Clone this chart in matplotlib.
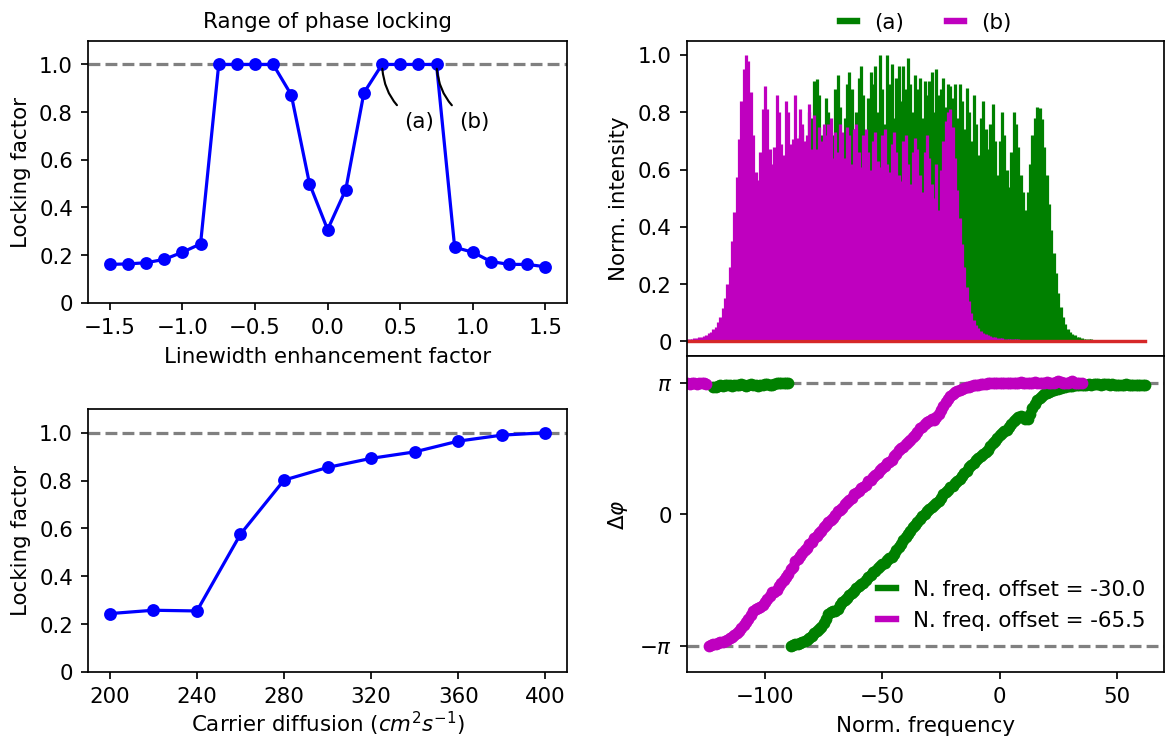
import numpy as np
import matplotlib.pyplot as plt
from matplotlib.lines import Line2D

# --- locking factor vs linewidth enhancement factor ---
alpha_vals = [-1.5, -1.375, -1.25, -1.125, -1.0, -0.875, -0.75, -0.625, -0.5,
              -0.375, -0.25, -0.125, 0.0, 0.125, 0.25, 0.375, 0.5, 0.625, 0.75,
              0.875, 1.0, 1.125, 1.25, 1.375, 1.5]
lock_alpha = [0.161, 0.163, 0.168, 0.182, 0.212, 0.247, 1.0, 1.0, 1.0,
              1.0, 0.872, 0.50, 0.307, 0.475, 0.881, 1.0, 1.0, 1.0, 1.0,
              0.233, 0.212, 0.173, 0.161, 0.161, 0.151]

# --- locking factor vs carrier diffusion ---
diffusion = [200, 220, 240, 260, 280, 300, 320, 340, 360, 380, 400]
lock_diff = [0.244, 0.258, 0.255, 0.576, 0.802, 0.855, 0.893, 0.920, 0.965, 0.990, 1.0]

# --- spectra, one mode per integer normalised frequency (-133 ... 62) ---
freq = np.arange(-133, 63)
spec_b = [
    0.008, 0.009, 0.010, 0.011, 0.012, 0.014, 0.016, 0.019, 0.023, 0.028,  # -133
    0.034, 0.042, 0.052, 0.066, 0.085, 0.117, 0.15, 0.20, 0.26, 0.35,      # -123
    0.45, 0.575, 0.705, 0.84, 0.95, 1.0, 0.98, 0.87, 0.72, 0.59,           # -113
    0.565, 0.66, 0.81, 0.89, 0.81, 0.67, 0.62, 0.68, 0.86, 0.80,           # -103
    0.69, 0.65, 0.84, 0.80, 0.69, 0.705, 0.86, 0.71, 0.81, 0.76,           # -93
    0.70, 0.72, 0.83, 0.67, 0.79, 0.67, 0.75, 0.70, 0.76, 0.72,            # -83
    0.76, 0.78, 0.64, 0.73, 0.66, 0.76, 0.73, 0.64, 0.75, 0.72,            # -73
    0.62, 0.74, 0.76, 0.66, 0.61, 0.72, 0.74, 0.66, 0.60, 0.70,            # -63
    0.73, 0.63, 0.61, 0.72, 0.74, 0.62, 0.59, 0.69, 0.73, 0.66,            # -53
    0.58, 0.56, 0.70, 0.72, 0.62, 0.55, 0.66, 0.71, 0.67, 0.58,            # -43
    0.52, 0.66, 0.72, 0.64, 0.55, 0.50, 0.62, 0.46, 0.60, 0.70,            # -33
    0.77, 0.80, 0.81, 0.75, 0.64, 0.53, 0.43, 0.34, 0.26, 0.19,            # -23
    0.14, 0.10, 0.075, 0.058, 0.046, 0.037, 0.031, 0.026, 0.022, 0.019,    # -13
    0.017, 0.015, 0.013, 0.012, 0.011, 0.010, 0.009, 0.009, 0.008, 0.008,  # -3
    0.007, 0.007, 0.006, 0.006, 0.006, 0.005, 0.005, 0.005, 0.005, 0.004,  # 7
    0.004, 0.004, 0.004, 0.004, 0.004, 0.004, 0.004, 0.004, 0.004, 0.004,  # 17
    0.004, 0.003, 0.003, 0.003, 0.003, 0.003, 0.003, 0.003, 0.003, 0.003,  # 27
    0.003, 0.003, 0.003, 0.003, 0.003, 0.003, 0.002, 0.002, 0.002, 0.002,  # 37
    0.002, 0.002, 0.002, 0.002, 0.002, 0.002, 0.002, 0.002, 0.002, 0.002,  # 47
    0.002, 0.002, 0.002, 0.002, 0.002, 0.002,                              # 57
]
spec_a = [
    0.001, 0.001, 0.001, 0.001, 0.001, 0.001, 0.001, 0.001, 0.001, 0.001,  # -133
    0.001, 0.001, 0.001, 0.002, 0.002, 0.002, 0.003, 0.003, 0.004, 0.004,  # -123
    0.005, 0.006, 0.007, 0.008, 0.009, 0.010, 0.012, 0.014, 0.017, 0.020,  # -113
    0.024, 0.029, 0.035, 0.043, 0.053, 0.066, 0.083, 0.11, 0.14, 0.19,     # -103
    0.25, 0.33, 0.43, 0.52, 0.60, 0.66, 0.70, 0.68, 0.72, 0.74,            # -93
    0.69, 0.70, 0.80, 0.78, 0.91, 0.915, 0.86, 0.72, 0.74, 0.85,           # -83
    0.80, 0.70, 0.72, 0.88, 0.93, 0.82, 0.70, 0.78, 0.90, 0.94,            # -73
    0.88, 0.74, 0.80, 0.92, 0.96, 0.86, 0.72, 0.85, 0.94, 0.90,            # -63
    0.96, 0.80, 1.0, 0.88, 0.76, 1.0, 0.90, 0.97, 0.78, 0.92,              # -53
    0.96, 0.84, 0.96, 0.88, 0.99, 0.90, 0.80, 0.93, 0.88, 0.92,            # -43
    0.78, 0.91, 0.86, 0.91, 0.94, 0.80, 0.95, 0.86, 0.88, 0.92,            # -33
    0.82, 0.90, 0.89, 0.85, 0.90, 0.78, 0.90, 0.84, 0.74, 0.885,           # -23
    0.80, 0.70, 0.86, 0.76, 0.65, 0.78, 0.84, 0.74, 0.67, 0.76,            # -13
    0.83, 0.70, 0.58, 0.70, 0.80, 0.72, 0.60, 0.54, 0.66, 0.80,            # -3
    0.76, 0.68, 0.58, 0.52, 0.46, 0.52, 0.62, 0.72, 0.78, 0.82,            # 7
    0.815, 0.775, 0.68, 0.58, 0.48, 0.39, 0.31, 0.24, 0.17, 0.12,          # 17
    0.085, 0.06, 0.045, 0.034, 0.026, 0.021, 0.017, 0.014, 0.012, 0.010,   # 27
    0.009, 0.008, 0.007, 0.006, 0.006, 0.005, 0.005, 0.004, 0.004, 0.004,  # 37
    0.003, 0.003, 0.003, 0.003, 0.003, 0.003, 0.003, 0.003, 0.003, 0.003,  # 47
    0.003, 0.003, 0.002, 0.002, 0.002, 0.002,                              # 57
]

# --- spectral phase (in units of pi) ---
freq_pb = np.arange(-133, 36)
phase_b = [
    1.0, 0.99, 1.0, 1.0, 0.99, 1.0, 0.995, 1.0, 0.99, -1.0,                    # -133
    -0.995, -0.99, -0.985, -0.98, -0.975, -0.97, -0.962, -0.955, -0.945, -0.935,  # -123
    -0.92, -0.90, -0.885, -0.865, -0.845, -0.82, -0.80, -0.77, -0.74, -0.72,   # -113
    -0.71, -0.705, -0.69, -0.665, -0.645, -0.62, -0.595, -0.59, -0.575, -0.545,  # -103
    -0.52, -0.50, -0.475, -0.455, -0.42, -0.40, -0.36, -0.34, -0.32, -0.295,   # -93
    -0.27, -0.255, -0.225, -0.21, -0.185, -0.165, -0.14, -0.13, -0.10, -0.085,  # -83
    -0.06, -0.045, -0.03, -0.01, 0.02, 0.03, 0.05, 0.075, 0.095, 0.11,         # -73
    0.125, 0.15, 0.16, 0.175, 0.195, 0.21, 0.22, 0.255, 0.26, 0.28,            # -63
    0.30, 0.31, 0.335, 0.35, 0.365, 0.39, 0.40, 0.41, 0.44, 0.46,              # -53
    0.49, 0.50, 0.51, 0.53, 0.545, 0.56, 0.59, 0.60, 0.625, 0.655,             # -43
    0.66, 0.685, 0.70, 0.705, 0.72, 0.715, 0.735, 0.76, 0.79, 0.82,            # -33
    0.85, 0.875, 0.895, 0.91, 0.925, 0.935, 0.945, 0.955, 0.96, 0.965,         # -23
    0.97, 0.975, 0.98, 0.985, 0.985, 0.99, 0.99, 0.99, 0.995, 0.995,           # -13
    0.995, 1.0, 1.0, 1.0, 1.0, 1.0, 1.0, 1.0, 1.0, 1.0,                        # -3
    1.0, 1.0, 1.005, 1.0, 1.0, 0.995, 1.0, 1.0, 1.005, 1.0,                    # 7
    1.0, 0.995, 1.0, 1.005, 1.0, 1.0, 1.0, 1.005, 1.01, 1.005,                 # 17
    1.0, 0.995, 1.0, 1.005, 1.01, 1.0, 1.0, 0.995, 1.0,                        # 27
]
freq_pa = np.arange(-122, 63)
phase_a = [
    0.97, 0.965, 0.975, 0.98, 0.975, 0.98, 0.985, 0.98, 0.975, 0.98,           # -122
    0.985, 0.98, 0.99, 0.985, 0.975, 0.98, 0.99, 0.985, 0.98, 0.975,           # -112
    0.98, 0.985, 0.99, 0.99, 0.985, 0.98, 0.99, 0.995, 1.0, 1.0,               # -102
    0.995, 1.0, 1.0,                                                           # -92
    -1.0, -0.995, -0.99, -0.987, -0.98, -0.975, -0.962, -0.955, -0.94, -0.925,  # -89
    -0.905, -0.89, -0.873, -0.855, -0.83, -0.80, -0.76, -0.745, -0.735, -0.735,  # -79
    -0.72, -0.69, -0.67, -0.655, -0.64, -0.615, -0.60, -0.585, -0.565, -0.55,  # -69
    -0.53, -0.525, -0.50, -0.48, -0.465, -0.44, -0.43, -0.41, -0.395, -0.38,   # -59
    -0.37, -0.35, -0.335, -0.325, -0.30, -0.275, -0.25, -0.225, -0.20, -0.175,  # -49
    -0.15, -0.125, -0.10, -0.085, -0.06, -0.035, -0.015, 0.0, 0.025, 0.04,     # -39
    0.055, 0.07, 0.085, 0.10, 0.12, 0.155, 0.17, 0.185, 0.205, 0.215,          # -29
    0.235, 0.25, 0.265, 0.29, 0.31, 0.33, 0.355, 0.375, 0.39, 0.41,            # -19
    0.425, 0.44, 0.46, 0.475, 0.49, 0.515, 0.54, 0.555, 0.575, 0.60,           # -9
    0.615, 0.63, 0.64, 0.66, 0.685, 0.705, 0.72, 0.735, 0.745, 0.735,          # 1
    0.72, 0.725, 0.76, 0.805, 0.84, 0.865, 0.883, 0.895, 0.91, 0.92,           # 11
    0.93, 0.937, 0.943, 0.95, 0.955, 0.96, 0.965, 0.968, 0.972, 0.975,         # 21
    0.977, 0.98, 0.98, 0.982, 0.984, 0.985, 0.985, 0.986, 0.985, 0.988,        # 31
    0.99, 0.988, 0.985, 0.99, 0.99, 0.988, 0.985, 0.99, 0.985, 0.98,           # 41
    0.985, 0.98, 0.985, 0.99, 0.985, 0.98, 0.985, 0.98, 0.985, 0.98,           # 51
    0.985, 0.98,                                                               # 61
]

offsets = [-30.0, -65.5]

dpi = 154
fig = plt.figure(figsize=(1167.4 / dpi, 738.4 / dpi), dpi=dpi)
W, H = 1167.0, 738.0


def px_axes(left, top, right, bottom, **kw):
    return fig.add_axes([left / W, 1 - bottom / H, (right - left) / W, (bottom - top) / H], **kw)


ax1 = px_axes(88, 41, 567, 303)
ax2 = px_axes(88, 409, 567, 672)
ax3 = px_axes(686.5, 41, 1164, 356.5)
ax4 = px_axes(686.5, 356.5, 1164, 672, sharex=ax3)

lock_ticks = [0, 0.2, 0.4, 0.6, 0.8, 1.0]
lock_labels = ["0", "0.2", "0.4", "0.6", "0.8", "1.0"]

# locking vs alpha
ax1.axhline(1.0, color="gray", ls="--", lw=1.5, zorder=1)
ax1.plot(alpha_vals, lock_alpha, "bo-", ms=5, lw=1.5)
ax1.set_ylim(0, 1.1)
ax1.set_yticks(lock_ticks, lock_labels)
ax1.set_xlabel("Linewidth enhancement factor")
ax1.set_ylabel("Locking factor")
ax1.set_title("Range of phase locking", fontsize=10)
ax1.annotate("(a)", xy=(alpha_vals[15], lock_alpha[15]), xytext=(0.63, 0.76),
             ha="center", va="center",
             arrowprops=dict(arrowstyle="-", color="k", lw=1,
                             connectionstyle="arc3,rad=-0.3"))
ax1.annotate("(b)", xy=(alpha_vals[18], lock_alpha[18]), xytext=(1.01, 0.76),
             ha="center", va="center",
             arrowprops=dict(arrowstyle="-", color="k", lw=1,
                             connectionstyle="arc3,rad=-0.3"))

# locking vs diffusion
ax2.axhline(1.0, color="gray", ls="--", lw=1.5, zorder=1)
ax2.plot(diffusion, lock_diff, "bo-", ms=5, lw=1.5)
ax2.set_ylim(0, 1.1)
ax2.set_yticks(lock_ticks, lock_labels)
ax2.set_xticks([200, 240, 280, 320, 360, 400])
ax2.set_xlabel("Carrier diffusion ($cm^2s^{-1}$)", labelpad=1)
ax2.set_ylabel("Locking factor")

# spectra
for spec, col in [(spec_a, "g"), (spec_b, "m")]:
    ml, sl, bl = ax3.stem(freq, spec, linefmt=col + "-", markerfmt=" ", basefmt="C3-")
    sl.set_linewidth(1.5)
ax3.set_ylim(-0.052, 1.05)
ax3.set_yticks(lock_ticks, lock_labels)
ax3.set_ylabel("Norm. intensity")
ax3.tick_params(labelbottom=False)
spec_handles = [Line2D([], [], color="g", lw=3), Line2D([], [], color="m", lw=3)]
ax3.legend(spec_handles, ["(a)", "(b)"], loc="lower center", bbox_to_anchor=(0.5, 0.965),
           ncol=2, frameon=False, handlelength=0.8)

# spectral phase
ax4.axhline(np.pi, color="gray", ls="--", lw=1.5, zorder=1)
ax4.axhline(-np.pi, color="gray", ls="--", lw=1.5, zorder=1)
ax4.plot(freq_pa, np.array(phase_a) * np.pi, "go", ms=4.5)
ax4.plot(freq_pb, np.array(phase_b) * np.pi, "mo", ms=4.5)
ax4.set_ylim(-1.2 * np.pi, 1.2 * np.pi)
ax4.set_yticks([-np.pi, 0, np.pi], [r"$-\pi$", "0", r"$\pi$"])
ax4.set_xlim(-133.3, 70.2)
ax4.set_xticks([-100, -50, 0, 50])
ax4.set_xlabel("Norm. frequency")
ax4.set_ylabel(r"$\Delta\varphi$")
phase_handles = [Line2D([], [], color="g", lw=3), Line2D([], [], color="m", lw=3)]
ax4.legend(phase_handles, [f"N. freq. offset = {o}" for o in offsets],
           loc="lower right", bbox_to_anchor=(1.0, 0.07), frameon=False, handlelength=0.8)

fig.savefig("out.png", dpi=dpi)
